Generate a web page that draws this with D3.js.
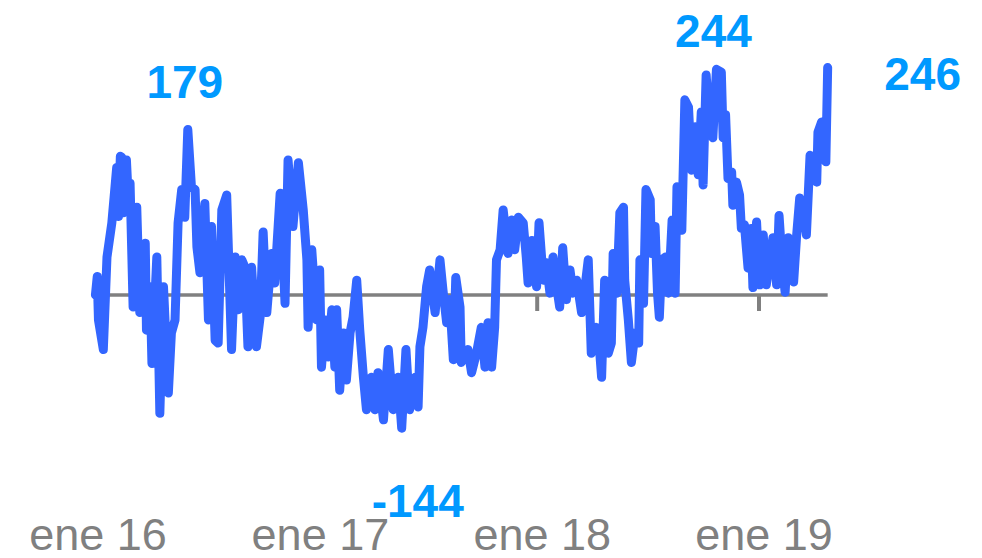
<!DOCTYPE html>
<head>
    <script src="https://d3js.org/d3.v7.min.js"></script>
</head>
<style>
body {
  margin: 0;
  background: #fff;
  font-family: "Liberation Sans", Arial, Helvetica, sans-serif;
}
</style>
<body>
    <svg></svg>
</body>

<script>
    // days counted from 1 jan 2016
    var startDate = "2016-01-01";
    var days = [4, 7, 9, 17, 23, 31, 39, 42, 45, 47, 50, 55, 58, 61, 66, 72, 77, 86, 88, 94, 97, 105, 110, 116, 124, 129, 135, 140, 146, 151, 156, 162, 168, 171, 176, 184, 190, 195, 201,
        206, 212, 220, 228, 234, 239, 245, 250, 255, 261, 269, 275, 280, 286, 294, 299, 308, 316, 321, 329, 338, 346, 352, 354, 360, 368, 373, 376, 382, 387, 393, 398,
        401, 406, 412, 417, 423, 428, 434, 439, 445, 450, 458, 464, 469, 478, 486, 494, 502, 508, 515, 521, 530, 535, 538, 543, 549, 554, 563, 571, 576, 582, 587, 593, 597,
        604, 606, 617, 623, 631, 639, 645, 650, 656, 661, 664, 670, 675, 683, 689, 694, 700, 708, 713, 716, 722, 730, 734, 741, 746, 752, 757, 763, 768, 773, 779, 785, 790,
        796, 804, 809, 815, 820, 828, 834, 837, 842, 848, 853, 856, 862, 867, 873, 875, 881, 886, 892, 898, 900, 906, 910, 917, 919, 925, 929, 932, 936, 942, 947, 953, 958, 961, 969, 974, 980, 985, 991,
        996, 1001, 1004, 1009, 1015, 1020, 1026, 1034, 1037, 1041, 1045, 1051, 1053, 1059, 1064, 1067, 1072, 1078, 1083, 1086, 1092, 1097, 1103, 1108, 1114, 1119, 1125, 1129, 1134, 1139, 1144, 1153, 1158, 1163, 1169, 1174, 1180, 1185, 1191, 1193, 1199, 1206, 1209];

    var values = [0, 20, -27, -59, 41, 78, 138, 85, 150, 149, 89, 146, 105, 121, -13, 95, -19, 56, -38, 9, -74, 41, -128, 9, -106, -41, -27, 78, 114, 84, 179, 117, 114, 52, 24, 99, -27, 74, -49,
        -52, 92, 108, -59, 41, -16, 38, 30, -56, 30, -56, -24, 68, -19, 45, 13, 110, -9, 146, 74, 143, 92, 38, -35, 49, -27, 27, -78, -27, -67, -16, -78,
        -16, -103, -41, -92, -41, -24, 16, -38, -89, -124, -89, -124, -84, -135, -59, -124, -89, -144, -59, -124, -89, -121, -56, -35, 9, 27, -19, 38, 5, -30, -5, -70, 19,
        -13, -73, -59, -84, -63, -35, -78, -30, -78, -35, 38, 49, 92, 45, 81, 49, 84, 78, 41, 13, 59, 9, 78, 16, 35, 2, 41, 9, -13, 51, -5, 27, 2,
        16, -19, 5, 38, -63, -35, -63, -89, 16, -63, -52, 45, 2, 89, 95, 16, -27, -73, -41, -52, 38, -9, 114, 103, 45, 74, 2, -24, 38, 41, 2, 81, 2, 117, 70, 211, 203, 135, 182,
        130, 198, 119, 238, 181, 170, 244, 241, 170, 195, 126, 133, 97, 122, 108, 72, 76, 29, 72, 8, 79, 11, 65, 11, 40, 62, 11, 86, 36, 3, 62, 14, 65, 105, 94, 65, 151, 144, 122, 176, 187, 144, 246];

    var tickYears = ["2016-01-01", "2017-01-01", "2018-01-01", "2019-01-01"];
    var tickLabels = ["ene 16", "ene 17", "ene 18", "ene 19"];

    var width = 982;
    var height = 558;
    var parse = d3.timeParse("%Y-%m-%d");
    var t0 = parse(startDate);

    var data = days.map(function (d, i) {
        return { date: d3.timeDay.offset(t0, d), value: values[i] };
    });

    var svg = d3.select('svg')
        .attr('width', width)
        .attr('height', height);

    var x = d3.scaleTime()
        .domain([parse(tickYears[0]), parse(tickYears[3])])
        .range([93, 759]);

    var y = d3.scaleLinear()
        .domain([0, 246])
        .range([295, 67.5]);

    // zero line + year ticks
    svg.append("line")
        .attr("x1", x(data[0].date)).attr("x2", x(data[data.length - 1].date))
        .attr("y1", y(0)).attr("y2", y(0))
        .style("stroke", "#808080")
        .style("stroke-width", 3.5);

    svg.selectAll(".tick")
        .data(tickYears.slice(1))
        .enter().append("line")
        .attr("class", "tick")
        .attr("x1", function (d) { return x(parse(d)); })
        .attr("x2", function (d) { return x(parse(d)); })
        .attr("y1", y(0))
        .attr("y2", y(0) + 16)
        .style("stroke", "#808080")
        .style("stroke-width", 4);

    svg.selectAll(".tlabel")
        .data(tickYears)
        .enter().append("text")
        .attr("class", "tlabel")
        .attr("x", function (d) { return x(parse(d)) + 5; })
        .attr("y", 550)
        .attr("text-anchor", "middle")
        .style("font-size", "45px")
        .style("fill", "#808080")
        .text(function (d, i) { return tickLabels[i]; });

    var line = d3.line()
        .x(function (d) { return x(d.date); })
        .y(function (d) { return y(d.value); });

    svg.append("path")
        .datum(data)
        .attr("d", line)
        .style("fill", "none")
        .style("stroke", "#3366ff")
        .style("stroke-width", 9)
        .style("stroke-linejoin", "round")
        .style("stroke-linecap", "round");

    // annotated points
    var y17 = parse("2017-01-01"), y18 = parse("2018-01-01"), y19 = parse("2019-01-01");
    var first = data.filter(function (d) { return d.date < y17; });
    var in18 = data.filter(function (d) { return d.date >= y18 && d.date < y19; });
    var notes = [
        { p: first[d3.maxIndex(first, function (d) { return d.value; })], dx: -3, dy: -31 },
        { p: data[d3.minIndex(data, function (d) { return d.value; })], dx: 16, dy: 89 },
        { p: in18[d3.maxIndex(in18, function (d) { return d.value; })], dx: -3, dy: -22 },
        { p: data[data.length - 1], dx: 95, dy: 22 }
    ];

    svg.selectAll(".note")
        .data(notes)
        .enter().append("text")
        .attr("class", "note")
        .attr("x", function (d) { return x(d.p.date) + d.dx; })
        .attr("y", function (d) { return y(d.p.value) + d.dy; })
        .attr("text-anchor", "middle")
        .style("font-size", "46px")
        .style("font-weight", "bold")
        .style("fill", "#0099ff")
        .text(function (d) { return d.p.value; });
</script>
